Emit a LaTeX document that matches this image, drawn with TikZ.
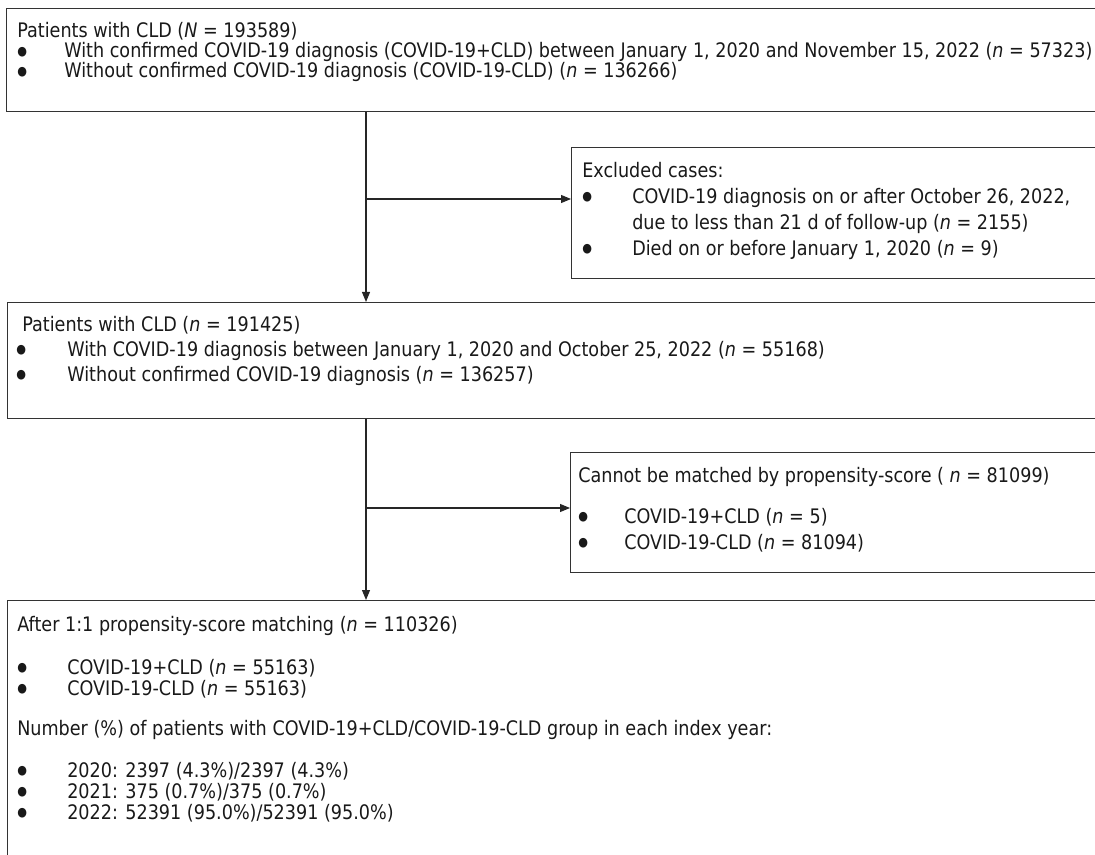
\documentclass[tikz,border=0pt]{standalone}
\usepackage{fontspec}
\setmainfont{DejaVu Sans}[FakeStretch=0.88]
\usetikzlibrary{positioning,arrows.meta}
\newcommand\bul[1][37.5pt]{\makebox[#1][l]{\raisebox{2.1pt}{\fontsize{9.5pt}{9.5pt}\selectfont ●}}}
\begin{document}
\begin{tikzpicture}[x=0.75pt,y=-0.75pt,>={Triangle[length=7.5pt,width=6pt]},
  flow box/.style={draw=black!80,line width=1pt,anchor=north west,inner sep=0pt},
  flow text/.style={anchor=north west,inner sep=0pt,align=left,text=black!90},
  flow line/.style={draw=black!85,line width=0.8pt}]
\useasboundingbox (0,0) rectangle (1095,855);
\clip (0,0) rectangle (1095,855);
% boxes
\node[flow box,minimum width=828pt,minimum height=77.25pt] (cld) at (6,8) {};
\node[flow box,minimum width=404.25pt,minimum height=98.25pt] (excl) at (571,147) {};
\node[flow box,minimum width=827.25pt,minimum height=87pt] (elig) at (7,302) {};
\node[flow box,minimum width=405pt,minimum height=90pt] (unmatch) at (570,452) {};
\node[flow box,minimum width=827.25pt,minimum height=240pt] (match) at (7,600) {};
% texts
\node[flow text,font=\fontsize{15pt}{15pt}\selectfont] (cld text) at ([shift={(11,14.5)}]cld.north west)
  {Patients with CLD (\textit{N} = 193589)\\
   \bul[35.25pt]With confirmed COVID-19 diagnosis (COVID-19+CLD) between January 1, 2020 and November 15, 2022 (\textit{n} = 57323)\\
   \bul[35.25pt]Without confirmed COVID-19 diagnosis (COVID-19-CLD) (\textit{n} = 136266)};
\node[flow text,font=\fontsize{15pt}{19.5pt}\selectfont] (excl text) at ([shift={(11,15)}]excl.north west)
  {Excluded cases:\\
   \bul COVID-19 diagnosis on or after October 26, 2022,\\
   \hspace*{37.5pt}due to less than 21 d of follow-up (\textit{n} = 2155)\\
   \bul Died on or before January 1, 2020 (\textit{n} = 9)};
\node[flow text,font=\fontsize{15pt}{18.75pt}\selectfont] (elig text) at ([shift={(9,14)}]elig.north west)
  {\hspace*{4.5pt}Patients with CLD (\textit{n} = 191425)\\
   \bul[38.25pt]With COVID-19 diagnosis between January 1, 2020 and October 25, 2022 (\textit{n} = 55168)\\
   \bul[38.25pt]Without confirmed COVID-19 diagnosis (\textit{n} = 136257)};
\node[flow text,font=\fontsize{15pt}{19.5pt}\selectfont] (unmatch text) at ([shift={(8,15)}]unmatch.north west)
  {Cannot be matched by propensity-score ( \textit{n} = 81099)\\[11.25pt]
   \bul[34.5pt]COVID-19+CLD (\textit{n} = 5)\\
   \bul[34.5pt]COVID-19-CLD (\textit{n} = 81094)};
\node[flow text,font=\fontsize{15pt}{15.75pt}\selectfont] (match text) at ([shift={(10,16)}]match.north west)
  {After 1:1 propensity-score matching (\textit{n} = 110326)\\[16.5pt]
   \bul COVID-19+CLD (\textit{n} = 55163)\\
   \bul COVID-19-CLD (\textit{n} = 55163)\\[14.25pt]
   Number (\%) of patients with COVID-19+CLD/COVID-19-CLD group in each index year:\\[15.75pt]
   \bul 2020: 2397 (4.3\%)/2397 (4.3\%)\\
   \bul 2021: 375 (0.7\%)/375 (0.7\%)\\
   \bul 2022: 52391 (95.0\%)/52391 (95.0\%)};
% connectors
\coordinate (fork1) at (366,199);
\coordinate (fork2) at (366,508);
\draw[flow line,->] (cld.south -| fork1) -- (elig.north -| fork1);
\draw[flow line,->] (fork1) -- (excl.west |- fork1);
\draw[flow line,->] (elig.south -| fork2) -- (match.north -| fork2);
\draw[flow line,->] (fork2) -- (unmatch.west |- fork2);
\end{tikzpicture}
\end{document}
